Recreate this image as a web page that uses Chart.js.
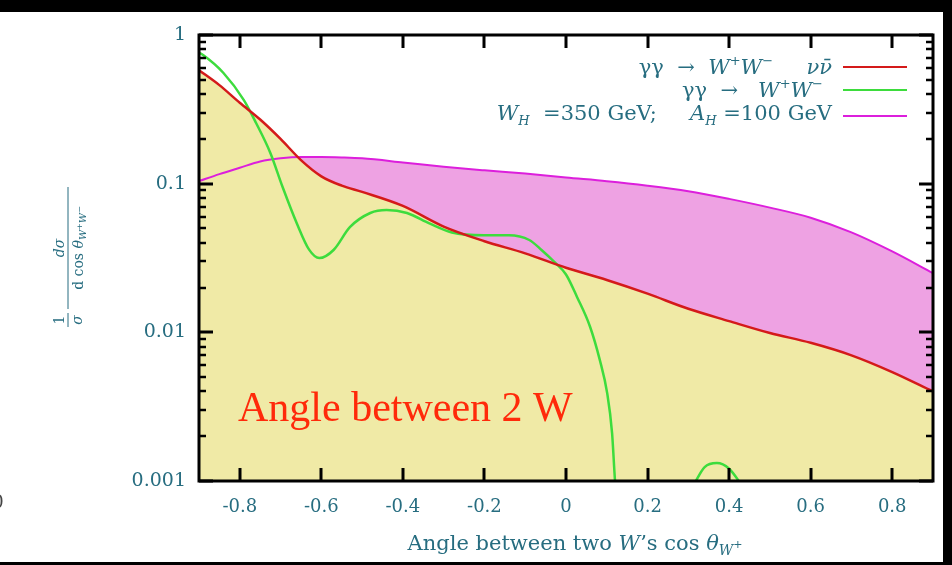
<!DOCTYPE html>
<html><head><meta charset="utf-8">
<script src="https://cdn.jsdelivr.net/npm/chart.js@4/dist/chart.umd.min.js"></script>
<style>html,body{margin:0;padding:0;background:#fff;overflow:hidden}canvas{display:block}</style>
</head><body>
<canvas id="c" width="952" height="565"></canvas>
<script>
// ---- data ----
const xGrid = [-0.9,-0.85,-0.8,-0.75,-0.7,-0.65,-0.6,-0.55,-0.5,-0.4,-0.3,-0.2,-0.1,0,0.1,0.2,0.3,0.4,0.5,0.6,0.7,0.8,0.9];
const redValues = [0.58,0.46,0.35,0.27,0.20,0.144,0.112,0.097,0.088,0.0708,0.0514,0.041,0.034,0.0272,0.0225,0.0182,0.0144,0.0119,0.0099,0.0085,0.0070,0.0054,0.0040];
const magentaValues = [0.104,0.116,0.128,0.141,0.148,0.151,0.151,0.150,0.148,0.139,0.130,0.123,0.117,0.110,0.104,0.097,0.089,0.079,0.069,0.059,0.047,0.035,0.025];
const greenX = [-0.9,-0.89,-0.84,-0.79,-0.76,-0.725,-0.695,-0.66,-0.63,-0.605,-0.57,-0.53,-0.48,-0.44,-0.39,-0.335,-0.28,-0.2,-0.14,-0.09,-0.06,-0.03,0.0,0.027,0.059,0.083,0.101,0.113,0.12,0.125];
const greenValues = [0.76,0.733,0.555,0.365,0.256,0.161,0.095,0.054,0.036,0.0316,0.0358,0.051,0.0635,0.0665,0.0635,0.054,0.047,0.045,0.045,0.0418,0.0358,0.0300,0.0245,0.0173,0.0109,0.0065,0.0039,0.0021,0.00102,0.0007];
const greenBumpX = [0.312,0.34,0.37,0.40,0.432];
const greenBumpValues = [0.00093,0.00124,0.00132,0.00121,0.00093];
const xTickValues = [-0.8,-0.6,-0.4,-0.2,0,0.2,0.4,0.6,0.8];
const xTickLabels = ['-0.8','-0.6','-0.4','-0.2','0','0.2','0.4','0.6','0.8'];
const yTickValues = [0.001,0.01,0.1,1];
const yTickLabels = ['0.001','0.01','0.1','1'];
const seriesNames = ['γγ → W⁺W⁻ νν̄','γγ → W⁺W⁻','W_H=350 GeV; A_H=100 GeV'];

const TEAL = '#276d80';
const SERIF = '"DejaVu Serif"';
const RED = '#d41a1a', GREEN = '#3ddc3d', MAG = '#dc1fdc';

function pts(xs, ys){ return xs.map((x,i)=>({x:x, y:ys[i]})); }

function rich(ctx, segs, x, y, align){
  let w = 0;
  segs.forEach(s=>{ ctx.font = s[1]; s.w = ctx.measureText(s[0]).width; w += s.w; });
  let cx = align==='right' ? x - w : (align==='center' ? x - w/2 : x);
  ctx.textAlign='left'; ctx.textBaseline='alphabetic';
  segs.forEach(s=>{ ctx.font = s[1]; ctx.fillText(s[0], cx, y + (s[2]||0)); cx += s.w; });
  return w;
}

const decor = {
  id:'decor',
  beforeDraw(chart){
    const c = chart.ctx; c.save(); c.fillStyle='#fff'; c.fillRect(0,0,chart.width,chart.height); c.restore();
  },
  afterDraw(chart){
    const c = chart.ctx, a = chart.chartArea, xs = chart.scales.x, ys = chart.scales.y;
    c.save();
    // ticks
    c.strokeStyle='#000'; c.lineCap='butt';
    c.lineWidth=3;
    xTickValues.forEach(v=>{
      const px = Math.round(xs.getPixelForValue(v));
      c.beginPath(); c.moveTo(px,a.bottom); c.lineTo(px,a.bottom-13);
      c.moveTo(px,a.top); c.lineTo(px,a.top+13); c.stroke();
    });
    yTickValues.forEach(v=>{
      const py = Math.round(ys.getPixelForValue(v));
      c.beginPath(); c.moveTo(a.left,py); c.lineTo(a.left+14,py);
      c.moveTo(a.right,py); c.lineTo(a.right-14,py); c.stroke();
    });
    c.lineWidth=2.5;
    [0.001,0.01,0.1].forEach(d=>{
      for(let m=2;m<=9;m++){
        const py = Math.round(ys.getPixelForValue(d*m));
        c.beginPath(); c.moveTo(a.left,py); c.lineTo(a.left+7,py);
        c.moveTo(a.right,py); c.lineTo(a.right-7,py); c.stroke();
      }
    });
    // frame
    c.lineWidth=3; c.strokeRect(a.left, a.top, a.right-a.left, a.bottom-a.top);

    // legend
    const N = `21px ${SERIF}`, I = `italic 21px ${SERIF}`, S = `13px ${SERIF}`, SI = `italic 13px ${SERIF}`;
    const lx = 832;
    c.fillStyle = TEAL;
    rich(c, [['γγ  →  ',N],['W',I],['+',S,-9],['W',I],['−',S,-9],['     νν̄',I]], lx, 74, 'right');
    rich(c, [['γγ  →   ',N],['W',I],['+',S,-9],['W',I],['−',S,-9]], lx-9, 97, 'right');
    rich(c, [['W',I],['H',SI,5],['  =350 GeV;     ',N],['A',I],['H',SI,5],[' =100 GeV',N]], lx, 120, 'right');
    const legCols = [RED, GREEN, MAG], legY = [67, 90, 116];
    legCols.forEach((col,i)=>{
      c.strokeStyle=col; c.lineWidth=2; c.beginPath(); c.moveTo(843,legY[i]); c.lineTo(907,legY[i]); c.stroke();
    });

    // x axis title
    c.fillStyle = TEAL;
    const NT = `21px ${SERIF}`, IT = `italic 21px ${SERIF}`;
    rich(c, [['Angle between two ',NT],['W',IT],['\u2019s cos ',NT],['θ',IT],['W',`italic 14px ${SERIF}`,5],['+',`11px ${SERIF}`,-2]], 575, 550, 'center');

    // y axis label (rotated fraction)
    c.save();
    c.translate(69, 257); c.rotate(-Math.PI/2);
    c.fillStyle = TEAL; c.strokeStyle = TEAL; c.lineWidth = 1;
    c.font = `14px ${SERIF}`; c.textAlign='center'; c.textBaseline='alphabetic';
    c.fillText('1', -63, -5);
    c.font = `italic 14px ${SERIF}`;
    c.fillText('σ', -63, 13);
    c.beginPath(); c.moveTo(-70,-1); c.lineTo(-56,-1); c.stroke();
    c.fillText('dσ', 9, -5);
    c.beginPath(); c.moveTo(-52,-1); c.lineTo(70,-1); c.stroke();
    rich(c, [['d cos ',`14px ${SERIF}`],['θ',`italic 14px ${SERIF}`],['W',`italic 10px ${SERIF}`,3],['+',`8px ${SERIF}`,-1],['W',`italic 10px ${SERIF}`,3],['−',`8px ${SERIF}`,-1]], 9, 14, 'center');
    c.restore();

    // annotation
    c.fillStyle = '#ff2a0a';
    c.font = '42px "Liberation Serif"'; c.textAlign='left'; c.textBaseline='alphabetic';
    c.fillText('Angle between 2 W', 238, 421);

    // cut-off glyph at left edge
    c.fillStyle = '#444'; c.font = `18px ${SERIF}`; c.textAlign='center';
    c.fillText('0', -2, 508);

    // black frame bars of the photo
    c.fillStyle = '#000';
    c.fillRect(0,0,952,12);
    c.fillRect(943,0,9,565);
    c.fillRect(0,562,952,3);
    c.restore();
  }
};

new Chart(document.getElementById('c'), {
  type:'line',
  data:{ datasets:[
    { label: seriesNames[0], data: pts(xGrid, redValues), borderColor: RED, borderWidth: 2.5,
      backgroundColor: '#f0eaa6', fill: 'start', pointRadius: 0, cubicInterpolationMode:'monotone' },
    { label: seriesNames[1], data: pts(greenX, greenValues), borderColor: GREEN, borderWidth: 2.5,
      fill: false, pointRadius: 0, cubicInterpolationMode:'monotone' },
    { label: seriesNames[1], data: pts(greenBumpX, greenBumpValues), borderColor: GREEN, borderWidth: 2.5,
      fill: false, pointRadius: 0, cubicInterpolationMode:'monotone' },
    { label: seriesNames[2], data: pts(xGrid, magentaValues), borderColor: MAG, borderWidth: 2,
      fill: { target: 0, above: '#eea2e3', below: 'rgba(0,0,0,0)' }, pointRadius: 0, cubicInterpolationMode:'monotone' }
  ]},
  options:{
    responsive:false, animation:false, devicePixelRatio:1,
    layout:{ padding:{ top:35, right:19, left:0, bottom:0 } },
    plugins:{ legend:{display:false}, tooltip:{enabled:false}, filler:{ drawTime:'beforeDatasetsDraw' } },
    scales:{
      x:{ type:'linear', min:-0.9, max:0.9,
        afterBuildTicks: s=>{ s.ticks = xTickValues.map(v=>({value:v})); },
        afterFit: s=>{ s.height = 84; },
        grid:{ display:false, drawTicks:false }, border:{ display:false },
        ticks:{ color: TEAL, font:{ family:'DejaVu Serif', size:18 }, padding:16, maxRotation:0, autoSkip:false,
          callback: v => xTickLabels[xTickValues.indexOf(v)] }
      },
      y:{ type:'logarithmic', min:0.001, max:1,
        afterBuildTicks: s=>{ s.ticks = yTickValues.map(v=>({value:v})); },
        afterFit: s=>{ s.width = 199; },
        grid:{ display:false, drawTicks:false }, border:{ display:false },
        ticks:{ color: TEAL, font:{ family:'DejaVu Serif', size:19 }, padding:13, autoSkip:false,
          callback: v => yTickLabels[yTickValues.indexOf(v)] }
      }
    }
  },
  plugins:[decor]
});
</script>
</body></html>
